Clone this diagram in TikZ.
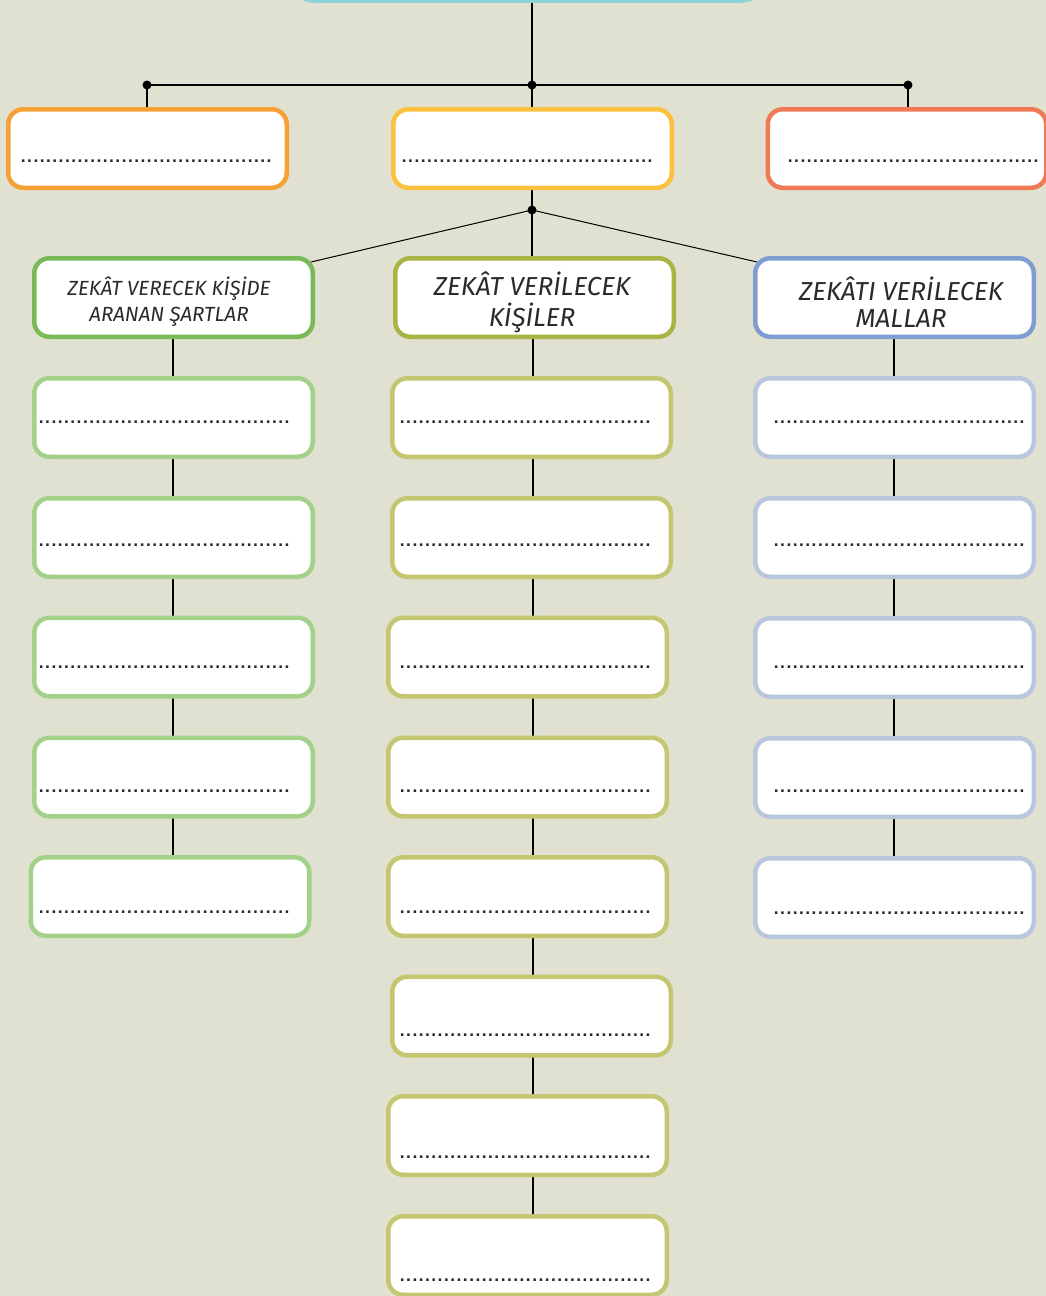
\documentclass[tikz,border=0pt]{standalone}
\usepackage{fontspec}
\setmainfont{Fira Sans}
\newfontfamily\dotf{DejaVu Sans}
\usetikzlibrary{backgrounds}
\definecolor{bg}{HTML}{E0E1D0}
\definecolor{ccyan}{HTML}{8DD3D8}
\definecolor{corange}{HTML}{F7A033}
\definecolor{cyellow}{HTML}{FCC03F}
\definecolor{ccoral}{HTML}{F07A55}
\definecolor{cgreen}{HTML}{78BA55}
\definecolor{colive}{HTML}{A8B545}
\definecolor{cblue}{HTML}{7F9FD3}
\definecolor{lgreen}{HTML}{A3D18A}
\definecolor{lolive}{HTML}{C4C76F}
\definecolor{lblue}{HTML}{B8C7DD}
\definecolor{ink}{HTML}{2A2A2A}
\newcommand\dotline{\dotf\bfseries\fontsize{14}{14}\selectfont\foreach \i in {1,...,40}{\hbox to 6.3pt{\hss.\hss}}}
\tikzset{
  box/.style={draw, line width=4.5pt, rounded corners=15pt, fill=white,
    minimum width=278.5pt, minimum height=78.5pt, inner sep=0pt},
  dots/.style={anchor=base west, inner sep=0pt, text=ink},
  hdr/.style={align=center, text=ink, font=\itshape},
  conn/.style={line width=2.2pt, black},
  thin/.style={line width=1pt, black},
  jdot/.style={circle, fill=black, inner sep=0pt, minimum size=9pt},
}
\begin{document}
\begin{tikzpicture}[x=1pt, y=-1pt]
\useasboundingbox (0,0) rectangle (1046,1296);
\clip (0,0) rectangle (1046,1296);
% top box
\node[box, draw=ccyan, minimum width=472pt, minimum height=116pt, rounded corners=22pt] (top) at (527.5,-57.5) {};
% row 1
\node[box, draw=corange] (o1) at (147.5,148.5) {};
\node[box, draw=cyellow] (y1) at (532.5,148.5) {};
\node[box, draw=ccoral] (r1) at (907,148.5) {};
\node[dots] (o1d) at (20,162) {\dotline};
\node[dots] (y1d) at (401,162) {\dotline};
\node[dots] (r1d) at (787,162) {\dotline};
% row 2 headers
\node[box, draw=cgreen] (g0) at (173.5,297.5) {};
\node[box, draw=colive] (c0) at (534.5,297.5) {};
\node[box, draw=cblue] (b0) at (894.5,297.5) {};
\node[hdr, font=\itshape\fontsize{20.5}{26}\selectfont] (g0t) at (169,302) {ZEKÂT VERECEK KİŞİDE\\ARANAN ŞARTLAR};
\node[hdr, font=\itshape\fontsize{26}{31}\selectfont] (c0t) at (532,302) {ZEKÂT VERİLECEK\\KİŞİLER};
\node[hdr, font=\itshape\fontsize{26}{27}\selectfont] (b0t) at (901,302) {ZEKÂTI VERİLECEK\\MALLAR};
% left column
\node[box, draw=lgreen] (l1) at (173.5,417.5) {};
\node[box, draw=lgreen] (l2) at (173.5,537.5) {};
\node[box, draw=lgreen] (l3) at (173.5,657) {};
\node[box, draw=lgreen] (l4) at (173.5,777) {};
\node[box, draw=lgreen] (l5) at (170,896.5) {};
\node[dots] (l1d) at (38,423) {\dotline};
\node[dots] (l2d) at (38,546) {\dotline};
\node[dots] (l3d) at (38,668) {\dotline};
\node[dots] (l4d) at (38,792) {\dotline};
\node[dots] (l5d) at (38,913) {\dotline};
% middle column
\node[box, draw=lolive] (m1) at (531.5,417.5) {};
\node[box, draw=lolive] (m2) at (531.5,537.5) {};
\node[box, draw=lolive] (m3) at (527.5,657) {};
\node[box, draw=lolive] (m4) at (527.5,777) {};
\node[box, draw=lolive] (m5) at (527.5,896.5) {};
\node[box, draw=lolive] (m6) at (531.5,1016) {};
\node[box, draw=lolive] (m7) at (527.5,1135.5) {};
\node[box, draw=lolive] (m8) at (527.5,1255.5) {};
\node[dots] (m1d) at (399,423) {\dotline};
\node[dots] (m2d) at (399,546) {\dotline};
\node[dots] (m3d) at (399,668) {\dotline};
\node[dots] (m4d) at (399,792) {\dotline};
\node[dots] (m5d) at (399,913) {\dotline};
\node[dots] (m6d) at (399,1036) {\dotline};
\node[dots] (m7d) at (399,1158) {\dotline};
\node[dots] (m8d) at (399,1281) {\dotline};
% right column
\node[box, draw=lblue] (r1b) at (894.5,417.5) {};
\node[box, draw=lblue] (r2b) at (894.5,537.5) {};
\node[box, draw=lblue] (r3b) at (894.5,657.5) {};
\node[box, draw=lblue] (r4b) at (894.5,777.5) {};
\node[box, draw=lblue] (r5b) at (894.5,897.5) {};
\node[dots] (r1bd) at (773,423) {\dotline};
\node[dots] (r2bd) at (773,546) {\dotline};
\node[dots] (r3bd) at (773,668) {\dotline};
\node[dots] (r4bd) at (773,792) {\dotline};
\node[dots] (r5bd) at (773,914) {\dotline};
% connectors
\begin{scope}[on background layer]
\fill[bg] (0,0) rectangle (1046,1296);
\coordinate (hub) at (532,85);
\coordinate (h1) at (147,85);
\coordinate (h3) at (908,85);
\coordinate (hub2) at (532,210);
\draw[conn] (top.south -| hub) -- (hub);
\draw[line width=1.2pt] (h1) -- (h3);
\draw[line width=1.2pt] (h1) -- (h1 |- o1.north);
\draw[conn] (hub) -- (hub |- y1.north);
\draw[line width=1.2pt] (h3) -- (h3 |- r1.north);
\draw[conn] (hub |- y1.south) -- (hub2);
\draw[thin] (hub2) -- ([xshift=-4pt,yshift=-6pt]g0.north east);
\draw[thin] (hub2) -- ([xshift=4pt,yshift=-6pt]b0.north west);
\draw[conn] (hub2) -- (hub2 |- c0.north);
\draw[conn] (173,297) -- (173,896);
\draw[conn] (533,297) -- (533,1255);
\draw[conn] (894,297) -- (894,897);
\end{scope}
\node[jdot] (j1) at (h1) {};
\node[jdot] (j2) at (hub) {};
\node[jdot] (j3) at (h3) {};
\node[jdot] (j4) at (hub2) {};
\end{tikzpicture}
\end{document}
